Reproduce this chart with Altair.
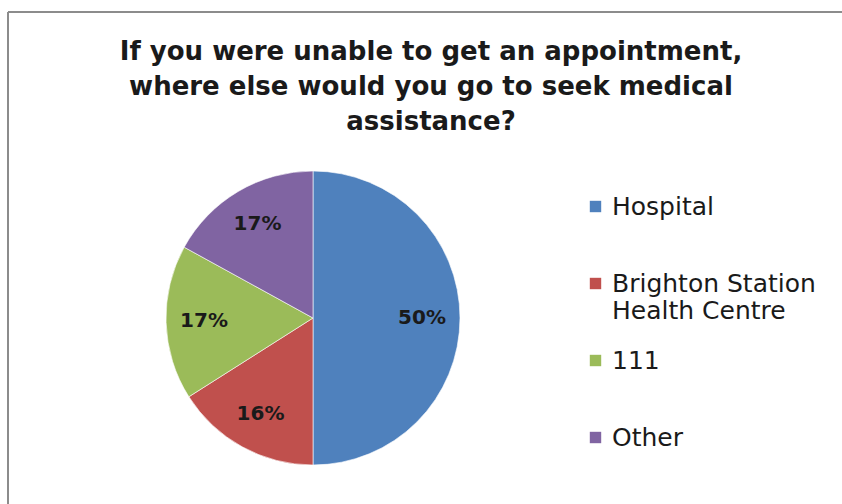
import altair as alt
import pandas as pd

categories = ["Hospital", "Brighton Station Health Centre", "111", "Other"]
values = [50, 16, 17, 17]
labels = ["50%", "16%", "17%", "17%"]
colors = ["#4F81BD", "#C0504D", "#9BBB59", "#8064A2"]

df = pd.DataFrame({
    "category": categories,
    "value": values,
    "label": labels,
    "idx": list(range(len(categories))),
})

FONT = "DejaVu Sans"

base = alt.Chart(df).encode(
    theta=alt.Theta("value:Q", stack=True),
    order=alt.Order("idx:Q"),
)

pie = base.mark_arc(stroke="#ffffff", strokeWidth=0.6).encode(
    color=alt.Color(
        "category:N",
        scale=alt.Scale(domain=categories, range=colors),
        legend=alt.Legend(
            title=None,
            orient="none",
            legendX=417,
            legendY=23,
            padding=0,
            symbolType="square",
            symbolSize=130,
            symbolStrokeWidth=0,
            labelFont=FONT,
            labelFontSize=25,
            labelColor="#1a1a1a",
            labelOffset=4,
            labelLimit=400,
            gridAlign="all",
            rowPadding=24,
            labelExpr="datum.label == 'Brighton Station Health Centre' ? ['Brighton Station', 'Health Centre'] : datum.label",
        ),
    )
)

text = base.mark_text(
    radius=109, font=FONT, fontSize=20, fontWeight="bold", color="#1a1a1a"
).encode(text="label:N")

border_top = alt.Chart(df).mark_rule(color="#8c8c8c", strokeWidth=2).encode(
    x=alt.value(-158), x2=alt.value(700), y=alt.value(-159)
)
border_left = alt.Chart(df).mark_rule(color="#8c8c8c", strokeWidth=2).encode(
    x=alt.value(-158), y=alt.value(-159), y2=alt.value(400)
)

chart = (
    alt.layer(border_top, border_left, pie, text)
    .properties(
        width=294,
        height=294,
        view=alt.ViewBackground(stroke="transparent", strokeWidth=0),
        title=alt.TitleParams(
            ["If you were unable to get an appointment,",
             "where else would you go to seek medical",
             "assistance?"],
            font=FONT,
            fontSize=26,
            fontWeight="bold",
            color="#1a1a1a",
            anchor="middle",
            dx=118,
            offset=-124,
            lineHeight=35,
        ),
        autosize=alt.AutoSizeParams(type="none"),
        padding={"left": 166, "top": 171, "right": 382, "bottom": 39},
    )
    .configure_view(stroke="transparent", strokeWidth=0)
    .configure(background="white")
)

chart.save("out.html", embed_options={"renderer": "svg", "actions": False})
